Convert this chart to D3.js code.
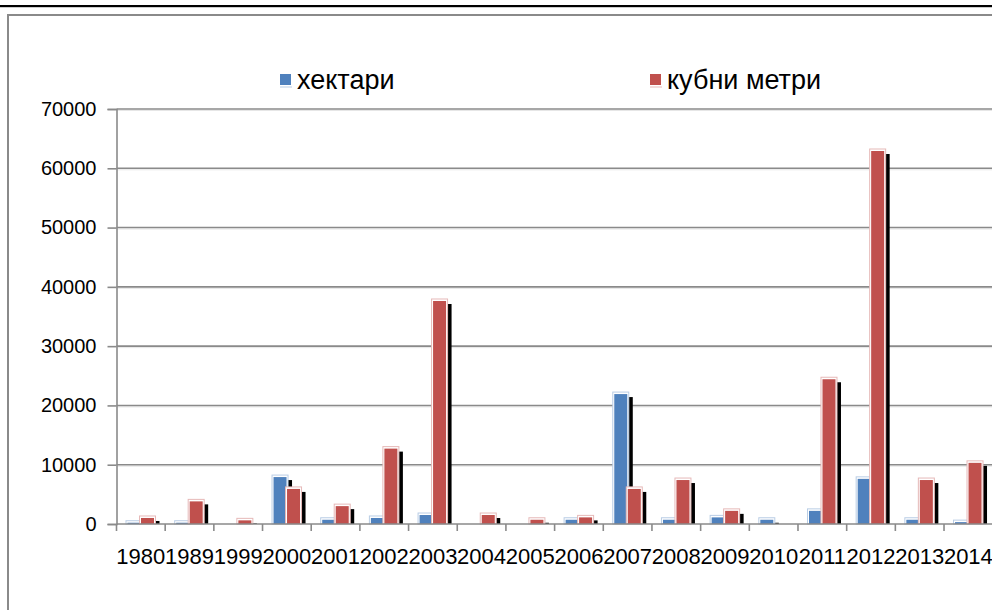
<!DOCTYPE html>
<html>
<head>
<meta charset="utf-8">
<script src="https://cdn.jsdelivr.net/npm/d3@7"></script>
<style>
  html, body { margin: 0; padding: 0; background: #fff; }
  svg { display: block; }
  text { font-family: "Liberation Sans", Arial, sans-serif; fill: #000; }
</style>
</head>
<body>
<svg id="chart" width="992" height="610"></svg>
<script>
const categories = ["1980","1989","1999","2000","2001","2002","2003","2004","2005","2006","2007","2008","2009","2010","2011","2012","2013","2014"];
const hectares = [300, 300, 0, 8000, 800, 1100, 1600, 0, 0, 800, 22000, 800, 1200, 800, 2300, 7700, 800, 400];
const cubicMeters = [1100, 3900, 700, 6000, 3100, 12800, 37700, 1600, 800, 1200, 6000, 7500, 2300, 0, 24500, 63000, 7500, 10400];
const seriesNames = ["хектари", "кубни метри"];
const yTicks = [0, 10000, 20000, 30000, 40000, 50000, 60000, 70000];

const colors = ["#4F81BD", "#C0504D"];
const glow = ["#B9CDE5", "#E6B9B8"];

const svg = d3.select("#chart");
const plotLeft = 116.5, plotRight = 992.7, plotTop = 109, plotBottom = 524;

// page frame
svg.append("rect").attr("x", 0).attr("y", 5).attr("width", 992).attr("height", 2.2).attr("fill", "#000");
svg.append("rect").attr("x", 8).attr("y", 15).attr("width", 1100).attr("height", 700)
  .attr("fill", "none").attr("stroke", "#8a8a8a").attr("stroke-width", 2);

const x = d3.scaleBand().domain(categories).range([plotLeft, plotRight]).paddingInner(0).paddingOuter(0);
const y = d3.scaleLinear().domain([0, 70000]).range([plotBottom, plotTop]);

// gridlines
const grid = svg.append("g");
yTicks.filter(d => d > 0).forEach(t => {
  grid.append("line").attr("x1", plotLeft).attr("x2", 992).attr("y1", y(t) + 1.5).attr("y2", y(t) + 1.5)
    .attr("stroke", "#e6e6e6").attr("stroke-width", 1);
  grid.append("line").attr("x1", plotLeft).attr("x2", 992).attr("y1", y(t)).attr("y2", y(t))
    .attr("stroke", "#8a8a8a").attr("stroke-width", 1.6);
});

// Y axis
const yAxis = d3.axisLeft(y).tickValues(yTicks).tickSize(9).tickPadding(11).tickFormat(d3.format("d"));
const gy = svg.append("g").attr("transform", `translate(${plotLeft},0)`).call(yAxis);
gy.select(".domain").attr("stroke", "#8a8a8a").attr("stroke-width", 1.6);
gy.selectAll(".tick line").attr("stroke", "#8a8a8a").attr("stroke-width", 1.6);
gy.selectAll(".tick text").attr("font-size", 20).attr("font-family", "Liberation Sans, Arial, sans-serif").attr("fill", "#000");

// bars
const bw = 13;
const offsets = [11, 24.5];
const sdx = 5.5, sdy = 3.5;
const seriesData = [hectares, cubicMeters];
const barsG = svg.append("g");
categories.forEach((c, i) => {
  seriesData.forEach((vals, s) => {
    const v = vals[i];
    if (v <= 0) return;
    const bx = x(c) + offsets[s];
    const by = y(v);
    const h = y(0) - by;
    barsG.append("rect").attr("x", bx + sdx).attr("y", by + sdy)
      .attr("width", bw).attr("height", Math.max(0, h - sdy)).attr("fill", "#000");
    barsG.append("rect").attr("x", bx - 1.5).attr("y", by - 1.5)
      .attr("width", bw + 3).attr("height", h + 1.5)
      .attr("fill", "#fff").attr("stroke", glow[s]).attr("stroke-width", 1);
    barsG.append("rect").attr("x", bx).attr("y", by + 0.5)
      .attr("width", bw).attr("height", Math.max(0, h - 0.5)).attr("fill", colors[s]);
  });
});

// X axis
const xAxis = d3.axisBottom(x).tickSize(0).tickPadding(24);
const gx = svg.append("g").attr("transform", `translate(0,${plotBottom})`).call(xAxis);
gx.select(".domain").remove();
gx.append("line").attr("x1", plotLeft).attr("x2", 992).attr("y1", 0).attr("y2", 0)
  .attr("stroke", "#8a8a8a").attr("stroke-width", 1.6);
gx.selectAll(".tick text").attr("font-size", 22).attr("font-family", "Liberation Sans, Arial, sans-serif").attr("fill", "#000");
categories.forEach(c => {
  gx.append("line").attr("x1", x(c)).attr("x2", x(c)).attr("y1", 0).attr("y2", 7)
    .attr("stroke", "#8a8a8a").attr("stroke-width", 1.6);
});

// legend
const legendX = [280, 650];
seriesNames.forEach((n, s) => {
  const g = svg.append("g");
  g.append("rect").attr("x", legendX[s]).attr("y", 74).attr("width", 11).attr("height", 11).attr("fill", colors[s]);
  g.append("line").attr("x1", legendX[s]).attr("x2", legendX[s] + 12).attr("y1", 87).attr("y2", 87)
    .attr("stroke", glow[s]).attr("stroke-width", 1);
  g.append("text").attr("x", legendX[s] + 17).attr("y", 89).attr("font-size", 27).text(n);
});
</script>
</body>
</html>
